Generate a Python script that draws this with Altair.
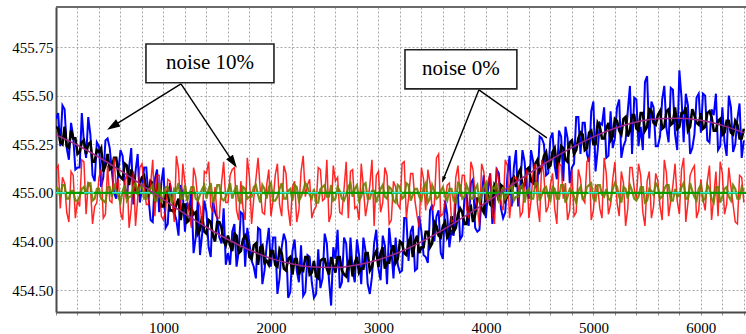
import altair as alt
import pandas as pd

# ---------------- data ----------------
noise_x = list(range(0, 6401, 40))          # sample positions of the noisy records
mid_x = list(range(20, 6400, 40))           # in-between sample positions
smooth_x = list(range(0, 6401, 200))        # sample positions of the smooth curve

smooth_y = [455.298, 455.245, 455.183, 455.114, 455.040, 454.965, 454.892, 454.823,
            454.760, 454.706, 454.663, 454.634, 454.618, 454.616, 454.629, 454.656,
            454.696, 454.748, 454.809, 454.878, 454.950, 455.025, 455.099, 455.169,
            455.233, 455.288, 455.332, 455.364, 455.381, 455.384, 455.373, 455.347,
            455.309]

blue_y = [
    455.38, 455.24, 455.43, 455.17, 455.29, 455.13, 455.41, 455.18, 455.30, 455.06,
    455.24, 455.08, 455.28, 455.11, 454.97, 455.22, 455.03, 455.13, 454.94, 455.20,
    455.02, 455.13, 454.86, 455.07, 454.90, 455.13, 454.84, 454.98, 454.86, 455.04,
    454.80, 454.91, 454.69, 454.97, 454.79, 454.90, 454.67, 454.90, 454.77, 454.92,
    454.69, 454.80, 454.62, 454.90, 454.62, 454.74, 454.62, 454.82, 454.53, 454.73,
    454.62, 454.77, 454.56, 454.79, 454.46, 454.70, 454.60, 454.73, 454.49, 454.67,
    454.46, 454.71, 454.56, 454.74, 454.42, 454.66, 454.51, 454.77, 454.54, 454.60,
    454.76, 454.53, 454.70, 454.48, 454.74, 454.61, 454.78, 454.53, 454.71, 454.77,
    454.59, 454.87, 454.65, 454.83, 454.61, 454.80, 454.67, 454.91, 454.75, 454.91,
    454.66, 454.89, 454.81, 454.97, 454.76, 454.97, 454.83, 455.07, 454.80, 454.98,
    454.87, 455.10, 454.93, 455.10, 454.87, 455.09, 454.93, 455.22, 455.04, 455.16,
    454.97, 455.16, 455.04, 455.28, 455.09, 455.28, 455.14, 455.32, 455.06, 455.28,
    455.13, 455.39, 455.20, 455.36, 455.16, 455.47, 455.22, 455.35, 455.18, 455.42,
    455.28, 455.48, 455.24, 455.42, 455.20, 455.48, 455.34, 455.57, 455.28, 455.44,
    455.24, 455.48, 455.33, 455.54, 455.30, 455.63, 455.26, 455.45, 455.23, 455.49,
    455.31, 455.50, 455.26, 455.40, 455.22, 455.44, 455.19, 455.44, 455.25, 455.46,
    455.27]

blue_mid_y = [
    455.41, 455.45, 455.23, 455.36, 455.12, 455.13, 455.26, 455.39, 455.09, 455.26,
    455.03, 455.27, 455.23, 455.00, 455.11, 455.19, 454.97, 455.23, 455.11, 454.95,
    455.13, 454.98, 454.85, 455.12, 455.05, 454.82, 455.05, 454.90, 454.78, 454.99,
    454.95, 455.01, 454.77, 454.68, 454.96, 454.72, 454.96, 454.87, 454.74, 454.63,
    454.63, 454.84, 454.70, 454.89, 454.82, 454.65, 454.56, 454.81, 454.60, 454.82,
    454.77, 454.48, 454.72, 454.75, 454.49, 454.76, 454.54, 454.47, 454.68, 454.54,
    454.48, 454.51, 454.79, 454.55, 454.72, 454.81, 454.54, 454.74, 454.77, 454.54,
    454.68, 454.77, 454.53, 454.57, 454.81, 454.55, 454.73, 454.82, 454.56, 454.63,
    454.60, 454.87, 454.80, 454.60, 454.88, 454.68, 454.64, 454.94, 454.88, 454.69,
    454.96, 454.72, 454.78, 454.99, 454.78, 455.00, 455.05, 454.82, 454.81, 455.09,
    455.02, 454.84, 455.12, 454.92, 454.90, 455.19, 455.13, 454.93, 455.22, 455.01,
    455.22, 455.03, 455.29, 455.25, 455.10, 455.31, 455.07, 455.29, 455.34, 455.05,
    455.15, 455.39, 455.36, 455.20, 455.42, 455.11, 455.36, 455.44, 455.19, 455.23,
    455.44, 455.18, 455.27, 455.55, 455.49, 455.24, 455.22, 455.60, 455.47, 455.24,
    455.29, 455.55, 455.26, 455.53, 455.22, 455.49, 455.51, 455.20, 455.30, 455.51,
    455.51, 455.27, 455.43, 455.51, 455.24, 455.26, 455.50, 455.21, 455.38, 455.18]

black_y = [
    455.34, 455.26, 455.34, 455.23, 455.28, 455.20, 455.26, 455.20, 455.26, 455.16,
    455.21, 455.11, 455.20, 455.13, 455.18, 455.08, 455.15, 455.04, 455.09, 455.00,
    455.08, 455.01, 455.06, 454.95, 455.01, 454.93, 455.01, 454.91, 454.94, 454.86,
    454.94, 454.86, 454.89, 454.79, 454.88, 454.79, 454.85, 454.75, 454.85, 454.75,
    454.78, 454.70, 454.78, 454.70, 454.78, 454.67, 454.73, 454.63, 454.73, 454.65,
    454.70, 454.63, 454.71, 454.61, 454.66, 454.58, 454.66, 454.61, 454.67, 454.58,
    454.65, 454.56, 454.66, 454.61, 454.67, 454.59, 454.67, 454.58, 454.64, 454.57,
    454.67, 454.61, 454.69, 454.60, 454.68, 454.62, 454.72, 454.64, 454.70, 454.64,
    454.75, 454.69, 454.75, 454.67, 454.78, 454.72, 454.80, 454.72, 454.85, 454.78,
    454.83, 454.77, 454.88, 454.82, 454.92, 454.84, 454.92, 454.85, 454.97, 454.92,
    454.99, 454.94, 455.04, 454.96, 455.03, 454.98, 455.07, 455.03, 455.12, 455.04,
    455.13, 455.05, 455.17, 455.13, 455.21, 455.14, 455.23, 455.16, 455.23, 455.16,
    455.27, 455.22, 455.31, 455.22, 455.31, 455.25, 455.36, 455.28, 455.33, 455.27,
    455.38, 455.32, 455.38, 455.29, 455.40, 455.33, 455.41, 455.32, 455.43, 455.36,
    455.40, 455.33, 455.42, 455.35, 455.44, 455.34, 455.41, 455.32, 455.43, 455.36,
    455.41, 455.34, 455.42, 455.32, 455.37, 455.30, 455.37, 455.31, 455.37, 455.28,
    455.33]

black_mid_y = [
    455.33, 455.25, 455.24, 455.32, 455.28, 455.21, 455.27, 455.25, 455.16, 455.22,
    455.23, 455.14, 455.12, 455.18, 455.10, 455.07, 455.14, 455.12, 455.02, 455.05,
    455.09, 454.99, 455.05, 455.03, 454.93, 454.99, 454.91, 454.90, 454.97, 454.94,
    454.85, 454.92, 454.90, 454.81, 454.80, 454.86, 454.78, 454.85, 454.82, 454.73,
    454.73, 454.79, 454.69, 454.76, 454.75, 454.66, 454.74, 454.72, 454.64, 454.63,
    454.70, 454.62, 454.69, 454.60, 454.67, 454.66, 454.58, 454.60, 454.67, 454.59,
    454.57, 454.65, 454.66, 454.58, 454.63, 454.67, 454.60, 454.57, 454.66, 454.64,
    454.59, 454.61, 454.69, 454.62, 454.70, 454.69, 454.61, 454.64, 454.73, 454.66,
    454.74, 454.68, 454.77, 454.75, 454.69, 454.72, 454.80, 454.74, 454.83, 454.77,
    454.85, 454.79, 454.80, 454.89, 454.90, 454.84, 454.93, 454.89, 454.97, 454.90,
    454.99, 454.93, 455.02, 455.04, 454.96, 455.00, 455.08, 455.10, 455.03, 455.12,
    455.06, 455.15, 455.11, 455.19, 455.13, 455.21, 455.14, 455.24, 455.17, 455.26,
    455.20, 455.28, 455.30, 455.23, 455.32, 455.25, 455.34, 455.28, 455.36, 455.29,
    455.37, 455.30, 455.39, 455.32, 455.40, 455.32, 455.41, 455.34, 455.42, 455.35,
    455.42, 455.34, 455.43, 455.36, 455.33, 455.41, 455.44, 455.34, 455.40, 455.35,
    455.33, 455.41, 455.39, 455.32, 455.38, 455.31, 455.37, 455.30, 455.35, 455.28]

red_y = [
    455.12, 454.92, 455.05, 454.85, 455.09, 454.96, 455.17, 454.89, 455.03, 454.93,
    455.08, 454.87, 455.14, 454.95, 455.02, 454.90, 455.06, 454.82, 455.11, 454.97,
    455.15, 454.94, 455.04, 454.88, 455.09, 454.86, 455.07, 454.98, 455.19, 454.91,
    455.05, 454.89, 455.13, 454.96, 454.84, 455.10, 454.93, 455.03, 454.87, 455.16,
    454.95, 455.12, 454.91, 455.06, 454.86, 455.08, 454.97, 455.18, 454.90, 455.04,
    454.88, 455.09, 454.94, 455.14, 454.92, 455.03, 454.85, 455.11, 454.98, 455.07,
    454.91, 455.13, 454.96, 455.17, 454.89, 455.06, 454.90, 455.02, 454.87, 455.12,
    454.93, 455.15, 454.88, 455.04, 454.83, 455.11, 454.95, 455.09, 454.86, 455.03,
    454.92, 455.16, 454.97, 455.10, 454.88, 455.13, 454.91, 455.05, 454.94, 455.20,
    454.89, 455.04, 454.85, 455.08, 454.98, 455.09, 454.87, 455.12, 454.93, 455.15,
    454.96, 455.10, 454.84, 455.06, 454.91, 455.14, 454.98, 455.08, 454.88, 455.05,
    454.87, 455.11, 454.94, 455.17, 454.90, 455.04, 454.92, 455.15, 454.97, 454.86,
    455.12, 454.90, 455.07, 454.95, 455.18, 454.91, 455.03, 454.87, 455.10, 454.94,
    455.16, 454.88, 455.05, 454.92, 455.13, 454.97, 455.09, 454.83, 455.11, 454.93,
    455.06, 454.86, 455.10, 454.96, 455.15, 454.89, 455.18, 454.95, 455.12, 454.87,
    455.07, 454.91, 455.14, 454.98, 454.88, 455.10, 454.94, 455.03, 454.85, 455.09,
    454.95]

red_mid_y = [
    455.14, 455.08, 454.90, 455.11, 454.87, 454.93, 455.16, 455.05, 454.84, 454.95,
    455.12, 454.89, 454.96, 455.18, 455.07, 454.86, 455.10, 454.92, 454.83, 455.13,
    455.04, 454.94, 455.17, 455.09, 454.88, 454.91, 455.06, 454.85, 455.12, 455.15,
    454.97, 454.82, 455.08, 454.93, 455.11, 455.16, 454.90, 454.87, 455.05, 454.95,
    455.09, 455.13, 454.86, 454.92, 455.18, 454.84, 455.07, 455.02, 454.89, 455.12,
    454.96, 455.15, 454.88, 455.10, 454.83, 455.06, 454.91, 455.19, 455.04, 454.87,
    454.93, 455.12, 454.97, 454.85, 455.14, 455.08, 454.89, 455.16, 455.11, 454.92,
    454.86, 455.03, 454.95, 455.17, 455.09, 454.90, 455.13, 454.84, 455.06, 454.94,
    455.15, 454.87, 455.10, 454.96, 454.82, 455.07, 455.12, 454.91, 455.18, 454.88,
    454.95, 455.05, 454.86, 455.14, 455.09, 454.92, 455.16, 454.98, 454.83, 455.11,
    455.06, 454.89, 455.13, 454.94, 455.17, 454.87, 455.08, 455.03, 454.90, 455.12,
    454.96, 455.15, 454.85, 455.09, 454.93, 455.10, 454.84, 455.14, 455.05, 454.91,
    454.88, 455.12, 454.97, 455.16, 454.86, 455.04, 454.92, 455.18, 454.89, 455.07,
    454.95, 455.11, 454.83, 455.13, 455.02, 455.15, 454.90, 455.06, 454.87, 455.10,
    454.93, 455.17, 454.88, 455.04, 454.96, 455.12, 454.85, 455.09, 455.14, 454.91,
    454.97, 455.06, 454.86, 455.11, 455.16, 454.89, 455.13, 454.94, 454.84, 455.08]

olive_y = [
    455.03, 454.98, 455.04, 454.97, 455.01, 454.96, 455.02, 454.99, 455.05, 454.97,
    455.02, 454.96, 455.03, 454.98, 455.01, 454.95, 455.04, 454.98, 455.03, 454.99,
    455.04, 454.97, 455.02, 454.96, 455.05, 454.98, 455.03, 454.95, 455.01, 454.97,
    455.04, 454.99, 455.03, 454.96, 455.02, 454.97, 455.05, 454.98, 455.04, 454.96,
    455.01, 454.97, 455.04, 454.95, 455.02, 454.98, 455.03, 454.99, 455.04, 454.97,
    455.05, 454.96, 455.02, 454.97, 455.01, 454.96, 455.03, 454.98, 455.05, 454.99,
    455.02, 454.95, 455.03, 454.98, 455.04, 454.97, 455.01, 454.96, 455.03, 454.98,
    455.04, 454.98, 455.05, 454.97, 455.01, 454.99, 455.04, 454.97, 455.02, 454.95,
    455.03, 454.98, 455.04, 454.99, 455.02, 454.96, 455.05, 454.97, 455.01, 454.98,
    455.03, 454.96, 455.02, 454.95, 455.04, 454.98, 455.01, 454.97, 455.04, 454.99,
    455.05, 454.97, 455.02, 454.96, 455.03, 454.99, 455.04, 454.98, 455.03, 454.95,
    455.02, 454.97, 455.05, 454.99, 455.03, 454.96, 455.02, 454.97, 455.04, 454.98,
    455.01, 454.95, 455.03, 454.98, 455.04, 454.97, 455.04, 454.99, 455.02, 454.96,
    455.05, 454.98, 455.03, 454.97, 455.01, 454.96, 455.03, 454.95, 455.02, 454.99,
    455.03, 454.98, 455.04, 454.96, 455.02, 454.99, 455.05, 454.97, 455.01, 454.96,
    455.04, 454.97, 455.02, 454.95, 455.03, 454.98, 455.03, 454.96, 455.02, 454.97,
    455.01]

olive_mid_y = [
    455.02, 455.04, 454.97, 455.01, 454.96, 454.98, 455.03, 455.05, 454.96, 455.02,
    454.97, 454.95, 455.03, 455.04, 454.98, 455.01, 454.96, 454.98, 455.05, 455.03,
    454.97, 455.02, 455.04, 454.96, 454.95, 455.03, 454.98, 455.02, 455.05, 454.97,
    454.96, 455.03, 454.97, 454.99, 455.04, 455.02, 454.95, 455.04, 454.97, 454.98,
    455.05, 455.01, 454.96, 455.03, 454.97, 454.98, 455.04, 454.95, 455.02, 455.03,
    454.96, 454.98, 455.05, 454.97, 455.02, 455.04, 454.96, 455.01, 455.03, 454.97,
    454.95, 455.02, 455.04, 454.98, 454.96, 455.03, 454.97, 454.99, 455.05, 455.02,
    454.96, 455.04, 454.97, 455.01, 454.95, 455.02, 454.98, 455.03, 454.96, 455.04,
    454.97, 455.05, 454.96, 455.02, 454.98, 455.03, 454.95, 455.04, 454.97, 455.01,
    454.98, 455.02, 454.96, 455.05, 454.97, 455.04, 454.97, 455.02, 454.95, 455.03,
    454.96, 455.03, 455.05, 454.98, 454.97, 455.02, 454.96, 454.98, 455.04, 455.01,
    454.97, 455.05, 454.96, 455.02, 454.98, 455.03, 454.97, 455.04, 454.95, 455.02,
    454.98, 455.01, 454.97, 455.03, 455.05, 454.96, 455.04, 454.98, 454.97, 455.02,
    455.03, 454.95, 455.02, 455.04, 454.97, 454.98, 455.03, 454.96, 455.01, 455.05,
    454.97, 455.02, 455.04, 454.96, 454.98, 455.03, 454.97, 455.05, 454.98, 455.02,
    454.96, 455.04, 454.97, 455.03, 454.95, 455.02, 454.98, 455.04, 454.97, 455.03]

flat_x = [0, 6420]
flat_y = [455.00, 455.00]

# annotation boxes and arrows (data coordinates)
box_labels = ["noise 10%", "noise 0%"]
box_x = [837, 3247]
box_x2 = [2028, 4288]
box_y = [455.766, 455.736]
box_y2 = [455.566, 455.535]
label_x = [1433, 3767]
label_y = [455.666, 455.636]

arrow_x = [1163, 1163, 3935, 3935]
arrow_y = [455.561, 455.561, 455.530, 455.530]
arrow_x2 = [530, 1647, 3603, 4567]
arrow_y2 = [455.343, 455.158, 455.068, 455.283]

head_x = [530, 1647, 3603]
head_y = [455.343, 455.158, 455.068]
head_angle = [238, 146, 202]
head_size = [190, 190, 45]

y_ticks = [454.5, 454.75, 455.0, 455.25, 455.5, 455.75]
x_ticks = list(range(0, 6401, 200))

# ---------------- chart ----------------
for a, b in [(blue_y, blue_mid_y), (black_y, black_mid_y), (red_y, red_mid_y), (olive_y, olive_mid_y)]:
    assert len(a) == len(noise_x) and len(b) == len(mid_x)

SERIF = "Liberation Serif, Times New Roman, DejaVu Serif, serif"
xs = alt.Scale(domain=[0, 6420], nice=False, zero=False)
ys = alt.Scale(domain=[454.387, 455.956], nice=False, zero=False)

xaxis = alt.Axis(values=x_ticks, format="d",
                 labelExpr="datum.value > 0 && datum.value % 1000 == 0 ? datum.label : ''",
                 title=None, grid=True, gridColor="#a6a6a6", gridDash=[2, 2], gridWidth=1,
                 domainColor="#4a4a4a", domainWidth=2, tickColor="#8a8a8a", tickSize=3,
                 labelFont=SERIF, labelFontSize=15, labelColor="#000000", labelPadding=5,
                 labelFlush=False)
yaxis = alt.Axis(values=y_ticks,
                 labelExpr="datum.value == 454.75 ? '454.00' : format(datum.value, '.2f')",
                 title=None, grid=True, gridColor="#a6a6a6", gridDash=[2, 2], gridWidth=1,
                 domainColor="#4a4a4a", domainWidth=2, ticks=False,
                 labelFont=SERIF, labelFontSize=15, labelColor="#000000", labelPadding=3)

X = alt.X("x:Q", scale=xs, axis=xaxis)
Y = alt.Y("y:Q", scale=ys, axis=yaxis)


def record(yv, ymid):
    df = pd.concat([pd.DataFrame({"x": noise_x, "y": yv}),
                    pd.DataFrame({"x": mid_x, "y": ymid})])
    return df.sort_values("x").reset_index(drop=True)


def line(df, color, width, opacity=1.0, dash=None, interp="linear"):
    kw = dict(color=color, strokeWidth=width, opacity=opacity, clip=True, interpolate=interp)
    if dash:
        kw["strokeDash"] = dash
    return alt.Chart(df).mark_line(**kw).encode(x=X, y=Y, order="x:Q")


flat_df = pd.DataFrame({"x": flat_x, "y": flat_y})

blue = line(record(blue_y, blue_mid_y), "#0000ff", 2.0)
black = line(record(black_y, black_mid_y), "#000000", 2.6)
red = line(record(red_y, red_mid_y), "#ff0000", 1.5, opacity=0.85)
olive = line(record(olive_y, olive_mid_y), "#6f7d00", 2.2, opacity=0.9)
green = line(flat_df, "#00a000", 2.2)
cyan = line(flat_df, "#30e8d0", 1.5, dash=[10, 18])
purple = line(pd.DataFrame({"x": smooth_x, "y": smooth_y}), "#a0288c", 1.5, interp="monotone")

arrows_df = pd.DataFrame({"x": arrow_x, "y": arrow_y, "x2": arrow_x2, "y2": arrow_y2})
arrows = alt.Chart(arrows_df).mark_rule(color="#000000", strokeWidth=1.4).encode(
    x=X, y=Y, x2="x2:Q", y2="y2:Q")

heads_df = pd.DataFrame({"x": head_x, "y": head_y, "angle": head_angle, "size": head_size})
heads = alt.Chart(heads_df).mark_point(
    shape="M0,-1L0.6,0.9L-0.6,0.9Z", filled=True, color="#000000", opacity=1
).encode(x=X, y=Y,
         angle=alt.Angle("angle:Q", scale=None),
         size=alt.Size("size:Q", scale=None, legend=None))

boxes_df = pd.DataFrame({"x": box_x, "x2": box_x2, "y": box_y, "y2": box_y2})
boxes = alt.Chart(boxes_df).mark_rect(fill="#ffffff", stroke="#222222", strokeWidth=1.6).encode(
    x=X, y=Y, x2="x2:Q", y2="y2:Q")

labels_df = pd.DataFrame({"x": label_x, "y": label_y, "t": box_labels})
labels = alt.Chart(labels_df).mark_text(font=SERIF, fontSize=21, color="#000000",
                                        align="center", baseline="middle").encode(
    x=X, y=Y, text="t:N")

top_border = alt.Chart(pd.DataFrame({"x": [0]})).mark_rule(
    color="#6a6a6a", strokeWidth=2).encode(
    x=alt.value(0), x2=alt.value(690), y=alt.value(0))

chart = alt.layer(
    blue, black, red, olive, green, cyan, purple, arrows, heads, boxes, labels, top_border
).properties(
    width=690, height=305,
    autosize=alt.AutoSizeParams(type="none"),
    padding={"left": 56, "top": 7, "right": 0, "bottom": 22},
    background="#ffffff",
).configure_view(stroke=None)

chart.save("out.html", embed_options={"renderer": "svg", "actions": False})
